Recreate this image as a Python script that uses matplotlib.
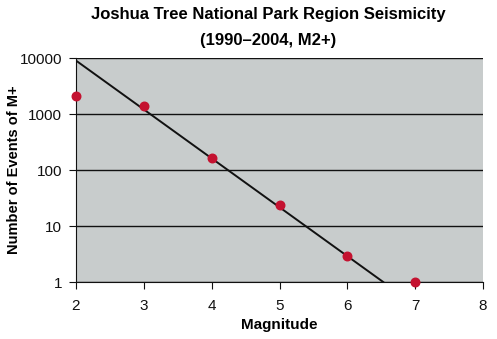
import numpy as np
import matplotlib.pyplot as plt

plt.rcParams['font.family'] = ['Liberation Sans', 'DejaVu Sans']

# events per magnitude bin
magnitude = [2, 3, 4, 5, 6, 7]
events = [2100, 1390, 163, 24, 2.9, 1]

# Gutenberg-Richter fit: log10 N = a - b*M
gr_a = 5.70
gr_b = 0.873

fig = plt.figure(figsize=(4.97, 3.39), dpi=100)
ax = fig.add_axes([76 / 497, 1 - 282 / 339, (483 - 76) / 497, (282 - 58) / 339])
ax.set_facecolor('#c8cccc')

m_end = gr_a / gr_b
m_fit = np.array([2, m_end])
ax.plot(m_fit, 10 ** (gr_a - gr_b * m_fit), color='#111111', lw=1.4, zorder=3)
ax.scatter(magnitude, events, s=38, color='#c41230', zorder=4, clip_on=False)

ax.set_yscale('log')
ax.set_ylim(1, 10000)
ax.set_xlim(2, 8)
ax.set_yticks([1, 10, 100, 1000, 10000])
ax.set_yticklabels(['1', '10', '100', '1000', '10000'])
ax.minorticks_off()
ax.yaxis.grid(True, color='#111111', lw=1.0)
ax.set_axisbelow(True)
for s in ['top', 'right']:
    ax.spines[s].set_visible(False)
for s in ['left', 'bottom']:
    ax.spines[s].set_color('#111111')
ax.tick_params(direction='out', length=5, labelsize=11, colors='#111111')
ax.tick_params(axis='y', pad=5)
ax.tick_params(axis='x', pad=7)

ax.set_xlabel('Magnitude', fontsize=11, fontweight='bold', labelpad=4)
ax.set_ylabel('Number of Events of M+', fontsize=10.5, fontweight='bold')
ax.yaxis.set_label_coords(-0.135, 0.5)
fig.suptitle('Joshua Tree National Park Region Seismicity\n(1990\u20132004, M2+)',
             x=0.54, fontsize=12, fontweight='bold', y=0.98, linespacing=1.9)

fig.savefig('out.png', dpi=100)
